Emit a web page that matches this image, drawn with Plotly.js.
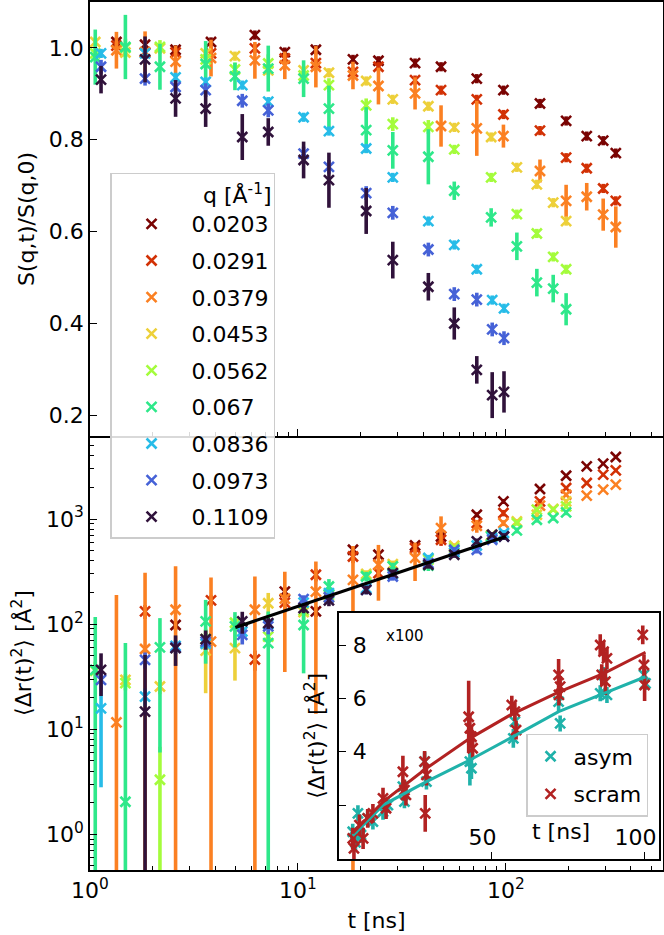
<!DOCTYPE html>
<html>
<head>
<meta charset="utf-8">
<script src="https://cdn.plot.ly/plotly-3.0.1.min.js"></script>
<style>
  html, body { margin: 0; padding: 0; background: #fff; }
  #plot { width: 664px; height: 935px; }
</style>
</head>
<body>
<div id="plot"></div>
<script>
// time grids (ns) of the three detector groups
const tA = [1.34, 1.84, 2.58, 3.82, 6.21, 8.65, 12.2, 18.4, 24.4, 36.6, 48.8, 72.5, 97.4, 146, 195, 245, 294, 338];
const tB = [1.06, 1.48, 2.17, 3.6, 4.98, 7.2, 10.65, 14.1, 21.3, 28.6, 42.4, 56.5, 85, 113, 141, 169, 195];
const tC = [1.13, 1.84, 2.58, 3.6, 5.4, 7.2, 10.65, 14.1, 21.3, 28.6, 42.4, 56.5, 72.5, 86, 98];

const qLabels = ['0.0203', '0.0291', '0.0379', '0.0453', '0.0562', '0.067', '0.0836', '0.0973', '0.1109'];
const qColors = ['#7a0403', '#d23105', '#fb8022', '#edd03a', '#a4fc3c', '#2ee88a', '#27bce8', '#4662d7', '#30123b'];

// S(q,t)/S(q,0)
const S_0203 = [1.013, 1.007, 0.996, 1.013, 1.028, 0.991, 0.996, 0.975, 0.972, 0.967, 0.959, 0.933, 0.908, 0.879, 0.841, 0.808, 0.798, 0.771];
const S_0291 = [1.005, 0.99, 0.99, 0.988, 0.999, 0.977, 0.967, 0.948, 0.959, 0.93, 0.908, 0.888, 0.855, 0.82, 0.761, 0.738, 0.694, 0.667];
const S_0379 = [0.995, 0.991, 0.97, 0.978, 0.973, 0.962, 0.959, 0.94, 0.917, 0.901, 0.83, 0.825, 0.808, 0.732, 0.667, 0.676, 0.637, 0.61];
const S_0453 = [1.013, 0.99, 0.999, 0.988, 0.982, 0.951, 0.951, 0.946, 0.928, 0.888, 0.873, 0.827, 0.806, 0.74, 0.703, 0.663, 0.623];
const S_0562 = [0.988, 1.0, 1.002, 0.975, 0.953, 0.966, 0.94, 0.919, 0.875, 0.834, 0.828, 0.779, 0.718, 0.638, 0.596, 0.545, 0.518];
const S_067 = [0.98, 1.002, 0.959, 0.965, 0.938, 0.955, 0.933, 0.868, 0.821, 0.777, 0.763, 0.689, 0.631, 0.568, 0.489, 0.476, 0.431];
const S_0836 = [0.988, 0.988, 0.936, 0.926, 0.919, 0.883, 0.849, 0.819, 0.781, 0.718, 0.623, 0.571, 0.518, 0.451, 0.433];
const S_0973 = [0.959, 0.933, 0.915, 0.908, 0.885, 0.864, 0.77, 0.741, 0.684, 0.641, 0.561, 0.464, 0.452, 0.387, 0.368];
const S_1109 = [0.931, 0.975, 0.89, 0.868, 0.806, 0.817, 0.756, 0.712, 0.645, 0.538, 0.48, 0.4, 0.299, 0.244, 0.251];

const eS_0203 = [0.01, 0.01, 0.01, 0.01, 0.01, 0.01, 0.01, 0.01, 0.01, 0.01, 0.01, 0.01, 0.01, 0.01, 0.01, 0.01, 0.01, 0.01];
const eS_0291 = [0.01, 0.01, 0.01, 0.015, 0.01, 0.01, 0.01, 0.01, 0.01, 0.01, 0.01, 0.01, 0.01, 0.01, 0.01, 0.01, 0.01, 0.01];
const eS_0379 = [0.04, 0.045, 0.035, 0.04, 0.04, 0.03, 0.045, 0.03, 0.04, 0.035, 0.045, 0.06, 0.025, 0.025, 0.035, 0.03, 0.035, 0.045];
const eS_0453 = [0.01, 0.01, 0.01, 0.01, 0.01, 0.01, 0.01, 0.01, 0.01, 0.01, 0.01, 0.01, 0.01, 0.01, 0.01, 0.01, 0.01];
const eS_0562 = [0.015, 0.02, 0.015, 0.02, 0.015, 0.02, 0.015, 0.015, 0.015, 0.015, 0.015, 0.01, 0.01, 0.01, 0.01, 0.01, 0.01];
const eS_067 = [0.06, 0.07, 0.05, 0.05, 0.03, 0.05, 0.04, 0.05, 0.05, 0.04, 0.06, 0.02, 0.02, 0.03, 0.03, 0.03, 0.035];
const eS_0836 = [0.01, 0.01, 0.01, 0.01, 0.01, 0.01, 0.01, 0.01, 0.01, 0.01, 0.01, 0.01, 0.01, 0.01, 0.01];
const eS_0973 = [0.015, 0.015, 0.015, 0.015, 0.015, 0.015, 0.015, 0.015, 0.015, 0.015, 0.015, 0.015, 0.015, 0.015, 0.015];
const eS_1109 = [0.03, 0.05, 0.04, 0.04, 0.05, 0.03, 0.04, 0.06, 0.05, 0.04, 0.03, 0.035, 0.03, 0.05, 0.045];

// MSD <dr(t)^2> [A^2]
const M_0203 = [null, null, 98, null, null, 204, 132, 510, 457, 560, 682, 1099, 1472, 1932, 2582, 3170, 3365, 3890];
const M_0291 = [null, 132, null, 168, 46, 160, 295, 440, 306, 530, 635, 916, 1140, 1472, 1972, 2203, 2642, 2904];
const M_0379 = [11.6, 58, 137, 68, 137, 175, 204, 264, 367, 427, 820, 860, 916, 1340, 1702, 1667, 1901, 2123];
const M_0453 = [null, 29.5, 25.5, 56, 59, 158, 130, 180, 300, 372, 420, 557, 700, 950, 1099, 1250, 1472];
const M_0562 = [36, 27.4, 3.3, 72, 103, 76, 135, 190, 290, 354, 410, 530, 690, 916, 1227, 1227, 1318];
const M_067 = [36.7, 2.04, 60, 106, 95, 66, 98, 228, 284, 354, 360, 500, 680, 780, 984, 1023, 1156];
const M_0836 = [15.8, 20.4, 62, 65, 85, 100, 160, 197, 220, 300, 426, 480, 560, 660, 736];
const M_0973 = [29.5, 45.7, 60, 68, 79, 95, 173, 180, 212, 284, 380, 510, 510, 635, 682];
const M_1109 = [36.7, 14.7, 59, 72, 106, 102, 142, 168, 212, 306, 367, 457, 612, 708, 682];

const eM_0203 = [0, 0, 10, 0, 0, 20, 15, 30, 25, 30, 80, 60, 80, 60, 80, 100, 100, 120];
const eM_0291 = [0, 20, 0, 20, 10, 30, 40, 60, 40, 50, 80, 60, 80, 80, 80, 100, 100, 120];
const eM_0379 = [178, 250, 218, 210, 147, 140, 190, 290, 200, 170, 240, 120, 60, 80, 60, 50, 60, 70];
const eM_0453 = [0, 4, 4, 34, 30, 40, 20, 20, 25, 30, 30, 30, 40, 50, 60, 60, 70];
const eM_0562 = [8, 4, 3.5, 10, 10, 10, 15, 15, 20, 25, 30, 30, 40, 50, 60, 60, 70];
const eM_067 = [80, 64, 54, 64, 35, 66, 64, 40, 30, 30, 40, 30, 40, 50, 60, 60, 70];
const eM_0836 = [13, 4, 8, 8, 8, 10, 15, 15, 20, 25, 30, 30, 40, 40, 50];
const eM_0973 = [6, 8, 8, 8, 15, 15, 15, 15, 20, 25, 30, 30, 40, 40, 50];
const eM_1109 = [16, 36, 19, 15, 25, 12, 15, 20, 20, 25, 30, 30, 40, 40, 50];

// power-law fit in the lower panel
const fitT = [5.0, 100];
const fitM = [93, 682];

// inset, MSD in units of 100 A^2
const asymT = [4.6, 5.5, 6.3, 7.3, 9.5, 11.2, 14.5, 16.1, 21.0, 21.5, 28.1, 28.7, 42.9, 43.4, 57.1, 57.6, 71.9, 72.4, 85.5, 86.6, 87.7, 99.8, 100.3];
const asymV = [1.0, 0.6, 1.69, 0.88, 1.5, 1.38, 1.75, 2.0, 2.69, 2.13, 3.63, 2.88, 3.63, 3.38, 4.5, 5.13, 5.88, 5.06, 6.19, 6.88, 6.13, 6.88, 6.56];
const asymE = [0.3, 0.3, 0.3, 0.3, 0.3, 0.3, 0.3, 0.3, 0.25, 0.25, 0.35, 0.3, 0.9, 0.4, 0.35, 0.3, 0.35, 0.3, 0.3, 0.3, 0.3, 0.25, 0.25];
const scramT = [4.6, 5.0, 6.8, 8.0, 9.5, 11.2, 14.5, 15.5, 21.0, 21.5, 22.0, 28.1, 28.7, 28.3, 42.5, 42.9, 43.4, 43.8, 56.6, 57.6, 58.0, 71.9, 72.4, 72.0, 85.5, 86.6, 87.7, 86.0, 87.2, 99.4, 99.8, 100.0];
const scramV = [0.75, 0.38, 1.25, 0.75, 1.5, 1.69, 2.25, 1.88, 3.25, 2.56, 2.38, 3.63, 3.13, 1.69, 5.31, 4.88, 4.56, 4.13, 5.75, 5.5, 4.81, 6.88, 6.44, 6.13, 8.0, 7.75, 7.5, 6.88, 6.63, 8.38, 7.25, 6.5];
const scramE = [0.4, 0.6, 0.4, 0.4, 0.35, 0.35, 0.4, 0.4, 0.6, 0.4, 0.4, 0.4, 0.4, 0.69, 1.35, 0.5, 0.4, 0.4, 0.35, 0.35, 0.35, 0.6, 0.4, 0.4, 0.4, 0.4, 0.4, 0.4, 0.5, 0.35, 0.4, 0.6];
const fitInsetT = [4.6, 14.5, 28.7, 42.9, 56, 71.9, 86.7, 100.3];
const scramFitV = [0.95, 2.12, 3.38, 4.5, 5.37, 6.23, 6.94, 7.73];
const asymFitV = [0.85, 2.0, 2.88, 3.69, 4.5, 5.5, 6.19, 6.81];

const qTimes = [tA, tA, tA, tB, tB, tB, tC, tC, tC];
const sVals = [S_0203, S_0291, S_0379, S_0453, S_0562, S_067, S_0836, S_0973, S_1109];
const sErrs = [eS_0203, eS_0291, eS_0379, eS_0453, eS_0562, eS_067, eS_0836, eS_0973, eS_1109];
const mVals = [M_0203, M_0291, M_0379, M_0453, M_0562, M_067, M_0836, M_0973, M_1109];
const mErrs = [eM_0203, eM_0291, eM_0379, eM_0453, eM_0562, eM_067, eM_0836, eM_0973, eM_1109];

const FONT = 'DejaVu Sans, sans-serif';

function errTrace(x, y, err, color, xa, ya, extra) {
  return Object.assign({
    x, y,
    type: 'scatter',
    mode: 'markers',
    xaxis: xa,
    yaxis: ya,
    marker: { symbol: 'x-thin', size: 10, color, line: { color, width: 2.6 } },
    error_y: { type: 'data', array: err, visible: true, color, thickness: 3.6, width: 0 },
    hoverinfo: 'x+y'
  }, extra || {});
}

const traces = [];
qLabels.forEach((q, i) => {
  traces.push(errTrace(qTimes[i], sVals[i], sErrs[i], qColors[i], 'x', 'y',
    { name: q, legendgroup: 'q' + i, showlegend: true }));
});
qLabels.forEach((q, i) => {
  traces.push(errTrace(qTimes[i], mVals[i], mErrs[i], qColors[i], 'x2', 'y2',
    { name: q, legendgroup: 'q' + i, showlegend: false }));
});
traces.push({
  x: fitT, y: fitM, type: 'scatter', mode: 'lines', xaxis: 'x2', yaxis: 'y2',
  line: { color: 'black', width: 3.2 }, showlegend: false, hoverinfo: 'none'
});

traces.push(errTrace(asymT, asymV, asymE, '#20b2aa', 'x3', 'y3',
  { name: 'asym', legend: 'legend2', legendgroup: 'asym' }));
traces.push(errTrace(scramT, scramV, scramE, '#b22222', 'x3', 'y3',
  { name: 'scram', legend: 'legend2', legendgroup: 'scram' }));
traces.push({
  x: fitInsetT, y: asymFitV, type: 'scatter', mode: 'lines', xaxis: 'x3', yaxis: 'y3',
  line: { color: '#20b2aa', width: 3 }, showlegend: false, hoverinfo: 'none'
});
traces.push({
  x: fitInsetT, y: scramFitV, type: 'scatter', mode: 'lines', xaxis: 'x3', yaxis: 'y3',
  line: { color: '#b22222', width: 3 }, showlegend: false, hoverinfo: 'none'
});

const decMinor = [2, 3, 4, 5, 6, 7, 8, 9, 20, 30, 40, 50, 60, 70, 80, 90, 200, 300, 400, 500];
const yMinor = [0.5, 0.6, 0.7, 0.8, 0.9, 2, 3, 4, 5, 6, 7, 8, 9, 20, 30, 40, 50, 60, 70, 80, 90,
  200, 300, 400, 500, 600, 700, 800, 900, 2000, 3000, 4000, 5000, 6000];

const axBase = {
  showline: true, linecolor: 'black', linewidth: 1.5, mirror: true,
  ticks: 'inside', ticklen: 7, tickwidth: 1.4, tickcolor: 'black',
  showgrid: false, zeroline: false,
  tickfont: { family: FONT, size: 22, color: 'black' }
};
const minorLog = (vals) => ({ tickvals: vals, ticks: 'inside', ticklen: 4, tickwidth: 1, tickcolor: 'black', showgrid: false });

const layout = {
  width: 664,
  height: 935,
  margin: { l: 90, r: 1, t: 2, b: 65 },
  paper_bgcolor: 'white',
  plot_bgcolor: 'white',
  font: { family: FONT, size: 22, color: 'black' },
  showlegend: true,
  xaxis: Object.assign({}, axBase, {
    type: 'log', range: [0, 2.756], domain: [0, 1], anchor: 'y',
    tickvals: [1, 10, 100], showticklabels: false, minor: minorLog(decMinor)
  }),
  yaxis: Object.assign({}, axBase, {
    range: [0.155, 1.1], domain: [0.5, 1], anchor: 'x',
    tickvals: [0.2, 0.4, 0.6, 0.8, 1.0], ticktext: ['0.2', '0.4', '0.6', '0.8', '1.0'],
    title: { text: 'S(q,t)/S(q,0)', font: { family: FONT, size: 22 }, standoff: 8 }
  }),
  xaxis2: Object.assign({}, axBase, {
    type: 'log', range: [0, 2.756], domain: [0, 1], anchor: 'y2', mirror: false,
    tickvals: [1, 10, 100], ticktext: ['10<sup>0</sup>', '10<sup>1</sup>', '10<sup>2</sup>'],
    minor: minorLog(decMinor),
    title: { text: 't [ns]', font: { family: FONT, size: 22 }, standoff: 10 }
  }),
  yaxis2: Object.assign({}, axBase, {
    type: 'log', range: [-0.34, 3.79], domain: [0, 0.5], anchor: 'x2',
    tickvals: [1, 10, 100, 1000],
    ticktext: ['10<sup>0</sup>', '10<sup>1</sup>', '10<sup>2</sup>', '10<sup>3</sup>'],
    minor: minorLog(yMinor),
    title: { text: '⟨Δr(t)<sup>2</sup>⟩ [Å<sup>2</sup>]', font: { family: FONT, size: 22 }, standoff: 8 }
  }),
  xaxis3: Object.assign({}, axBase, {
    range: [0.2, 104.8], domain: [0.435, 0.9935], anchor: 'y3',
    linewidth: 2, tickvals: [50, 100], ticktext: ['50', '100'],
    ticklabelposition: 'inside', ticklabelstandoff: 4, ticklabelshift: -9
  }),
  yaxis3: Object.assign({}, axBase, {
    range: [-0.02, 9.21], domain: [0.0127, 0.2964], anchor: 'x3',
    linewidth: 2, tickvals: [2, 4, 6, 8], ticktext: ['', '4', '6', '8'],
    ticklabelposition: 'inside', ticklabelstandoff: 8,
    title: { text: '⟨Δr(t)<sup>2</sup>⟩ [Å<sup>2</sup>]', font: { family: FONT, size: 22 }, standoff: 22 }
  }),
  legend: {
    x: 0.035, y: 0.803, xanchor: 'left', yanchor: 'top',
    bgcolor: 'rgba(255,255,255,0.85)', bordercolor: '#cccccc', borderwidth: 1.5,
    font: { family: FONT, size: 22, color: 'black' },
    title: { text: 'q [Å<sup>-1</sup>]', side: 'top right', font: { family: FONT, size: 22 } },
    tracegroupgap: 5, itemwidth: 70
  },
  legend2: {
    x: 0.761, y: 0.1567, xanchor: 'left', yanchor: 'top',
    bgcolor: 'rgba(255,255,255,0.85)', bordercolor: '#cccccc', borderwidth: 1.5,
    font: { family: FONT, size: 22, color: 'black' },
    tracegroupgap: 6, itemwidth: 36
  },
  annotations: [
    { xref: 'x3 domain', yref: 'y3 domain', x: 0.14, y: 0.907, xanchor: 'left', yanchor: 'middle',
      text: 'x100', showarrow: false, font: { family: FONT, size: 15, color: 'black' } },
    { xref: 'x3 domain', yref: 'y3 domain', x: 0.693, y: 0.11, xanchor: 'center', yanchor: 'middle',
      text: 't [ns]', showarrow: false, font: { family: FONT, size: 22, color: 'black' } }
  ]
};

Plotly.newPlot('plot', traces, layout, { displayModeBar: false, responsive: false });
</script>
</body>
</html>
